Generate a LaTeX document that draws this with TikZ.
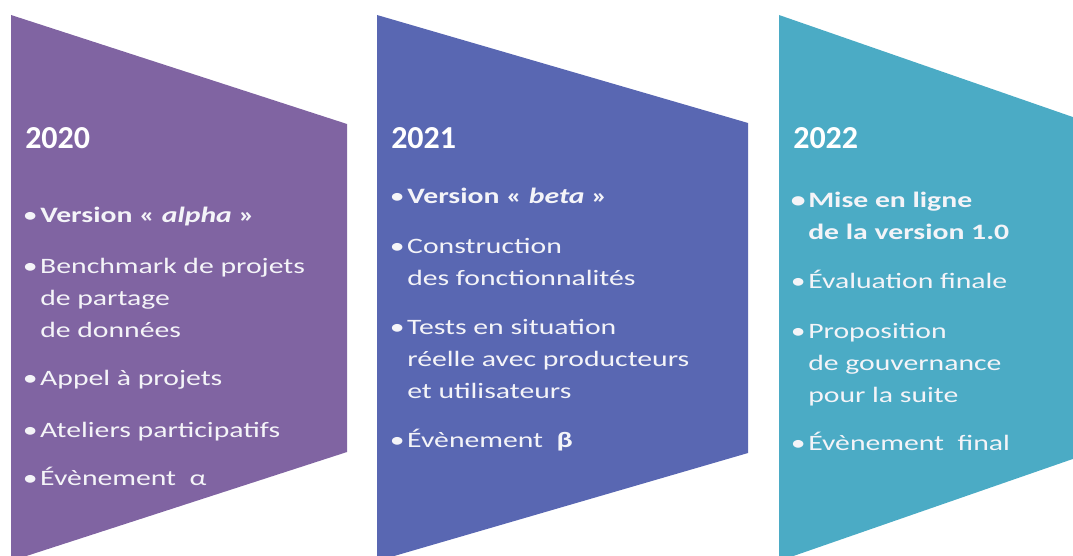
\documentclass[tikz,border=0pt]{standalone}
\usepackage{fontspec}
\setmainfont{Carlito}
\newfontfamily\bodyfont[FakeStretch=1.35]{Carlito}
\definecolor{alphaviolet}{RGB}{128,100,162}
\definecolor{betablue}{RGB}{89,103,178}
\definecolor{finalteal}{RGB}{75,171,197}
\definecolor{txtwhite}{RGB}{244,244,248}
\tikzset{
  year/.style={anchor=base west, inner sep=0pt, text=white, font=\bfseries\fontsize{24}{28}\selectfont},
  item/.style={anchor=base west, inner sep=0pt, align=left, text=txtwhite, font=\bodyfont\fontsize{16.5}{24}\selectfont},
}
\newcommand{\bul}{\llap{\textbullet\hspace{2pt}}}

\begin{document}
\begin{tikzpicture}[x=0.75pt,y=0.75pt,yscale=-1,xscale=1]
\useasboundingbox (0,0) rectangle (1073,556);
\clip (0,0) rectangle (1073,556);

%Shape: Chevron 2020
\fill [alphaviolet] (11,15) -- (347,124) -- (347,452) -- (11,561) -- cycle ;
%Shape: Chevron 2021
\fill [betablue] (377,15) -- (748,123) -- (748,453) -- (377,561) -- cycle ;
%Shape: Chevron 2022
\fill [finalteal] (779,15) -- (1090,123) -- (1090,453) -- (779,561) -- cycle ;

%Text 2020 (base = last line)
\node [year] (y20) at (25,149) {2020};
\node [item] (a1) at (40,222) {\bul\textbf{Version « \textit{alpha} »}};
\node [item] (a2) at (40,337) {\bul Benchmark de projets\\de partage\\de données};
\node [item] (a3) at (40,385) {\bul Appel à projets};
\node [item] (a4) at (40,437) {\bul Ateliers participatifs};
\node [item] (a5) at (40,485) {\bul Évènement\ \ α};

%Text 2021
\node [year] (y21) at (391,149) {2021};
\node [item] (b1) at (407,203) {\bul\textbf{Version « \textit{beta} »}};
\node [item] (b2) at (407,285) {\bul Construction\\des fonctionnalités};
\node [item] (b3) at (407,398) {\bul Tests en situation\\réelle avec producteurs\\et utilisateurs};
\node [item] (b4) at (407,447) {\bul Évènement\ \ \textbf{β}};

%Text 2022
\node [year] (y22) at (793,149) {2022};
\node [item, font=\bodyfont\bfseries\fontsize{16.5}{24}\selectfont] (c1) at (808,239) {\bul Mise en ligne\\de la version 1.0};
\node [item] (c2) at (808,288) {\bul Évaluation finale};
\node [item] (c3) at (808,402) {\bul Proposition\\de gouvernance\\pour la suite};
\node [item] (c4) at (808,450) {\bul Évènement\ \ final};

\end{tikzpicture}
\end{document}
